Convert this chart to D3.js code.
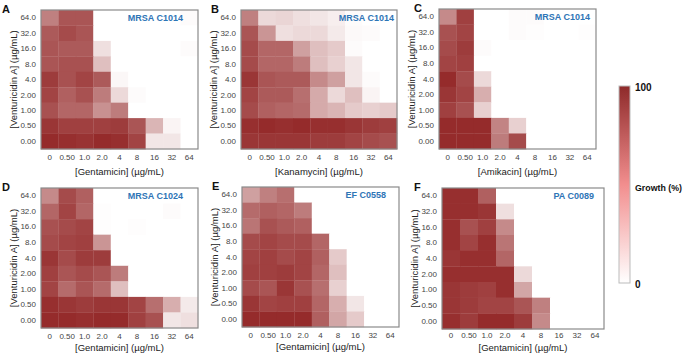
<!DOCTYPE html>
<html>
<head>
<meta charset="utf-8">
<script src="https://cdn.jsdelivr.net/npm/d3@7"></script>
<style>
body { margin: 0; background: #fff; font-family: "Liberation Sans", Arial, sans-serif; }
</style>
</head>
<body>
<div class="container"></div>
<script>
// checkerboard growth (%) : rows = venturicidin A (top 64 -> bottom 0), cols = antibiotic (0 -> 64)
var width = 685;
var height = 356;

var abxTicks = ["0", "0.50", "1.0", "2.0", "4", "8", "16", "32", "64"];
var vencTicks = ["64.0", "32.0", "16.0", "8.0", "4.0", "2.00", "1.00", "0.50", "0.00"];

var panelLetters = ["A", "B", "C", "D", "E", "F"];
var strains = ["MRSA C1014", "MRSA C1014", "MRSA C1014", "MRSA C1024", "EF C0558", "PA C0089"];
var drugs = ["Gentamicin", "Kanamycin", "Amikacin", "Gentamicin", "Gentamicin", "Gentamicin"];

var growthA = [
  [60, 80, 80, 0, 0, 0, 0, 0, 2],
  [78, 85, 80, 0, 0, 0, 0, 0, 0],
  [80, 78, 78, 15, 0, 0, 0, 0, 2],
  [80, 82, 82, 30, 0, 0, 0, 0, 0],
  [92, 82, 88, 78, 4, 0, 0, 0, 0],
  [88, 75, 82, 62, 18, 2, 0, 0, 0],
  [82, 72, 72, 52, 62, 0, 0, 0, 0],
  [95, 90, 90, 90, 92, 80, 35, 5, 0],
  [100, 98, 96, 100, 98, 88, 12, 12, 0]
];
var growthB = [
  [60, 18, 20, 15, 12, 8, 2, 0, 0],
  [80, 50, 15, 18, 18, 10, 3, 2, 0],
  [85, 72, 72, 45, 30, 25, 2, 0, 0],
  [85, 72, 72, 62, 30, 22, 12, 0, 0],
  [95, 80, 78, 78, 55, 45, 12, 2, 0],
  [88, 78, 78, 68, 40, 18, 30, 5, 0],
  [85, 75, 72, 70, 40, 35, 25, 22, 25],
  [98, 100, 98, 100, 98, 98, 95, 92, 90],
  [95, 95, 95, 95, 92, 92, 88, 85, 82]
];
var growthC = [
  [55, 90, 0, 0, 2, 2, 0, 0, 0],
  [82, 88, 0, 0, 2, 1, 0, 0, 1],
  [85, 92, 2, 0, 0, 0, 0, 0, 0],
  [88, 90, 0, 0, 0, 0, 0, 0, 0],
  [100, 85, 18, 0, 0, 0, 0, 0, 0],
  [95, 88, 38, 0, 0, 0, 0, 0, 0],
  [90, 82, 22, 0, 0, 0, 0, 0, 0],
  [100, 100, 100, 58, 22, 0, 0, 0, 0],
  [100, 100, 100, 62, 85, 0, 0, 0, 0]
];
var growthD = [
  [55, 85, 75, 0, 0, 0, 0, 0, 0],
  [72, 88, 72, 1, 0, 0, 0, 2, 0],
  [82, 85, 88, 1, 0, 1, 0, 0, 0],
  [85, 88, 90, 50, 0, 0, 0, 0, 0],
  [95, 85, 92, 92, 0, 0, 0, 0, 0],
  [90, 80, 85, 80, 62, 0, 0, 0, 0],
  [88, 70, 80, 70, 30, 0, 0, 0, 0],
  [98, 95, 92, 95, 95, 88, 68, 38, 10],
  [100, 100, 98, 100, 100, 90, 82, 12, 15]
];
var growthE = [
  [45, 60, 68, 0, 0, 0, 0, 0, 0],
  [70, 75, 72, 62, 0, 0, 0, 0, 0],
  [65, 82, 78, 75, 0, 0, 0, 0, 0],
  [85, 88, 85, 85, 72, 0, 0, 0, 0],
  [88, 90, 85, 88, 75, 25, 0, 0, 0],
  [90, 90, 92, 88, 72, 30, 0, 0, 0],
  [85, 80, 95, 82, 68, 22, 0, 0, 0],
  [95, 88, 90, 90, 72, 38, 12, 0, 0],
  [100, 100, 100, 100, 75, 42, 25, 0, 0]
];
var growthF = [
  [98, 98, 75, 0, 0, 0, 0, 0, 0],
  [98, 98, 95, 15, 0, 0, 0, 0, 0],
  [98, 82, 90, 55, 0, 0, 0, 0, 0],
  [98, 88, 98, 65, 0, 0, 0, 0, 0],
  [95, 98, 98, 72, 0, 0, 0, 0, 0],
  [98, 98, 98, 98, 18, 0, 0, 0, 0],
  [95, 92, 90, 98, 42, 0, 0, 0, 0],
  [95, 92, 88, 88, 80, 60, 0, 0, 0],
  [98, 92, 100, 100, 92, 55, 0, 0, 0]
];
var growthPanels = [growthA, growthB, growthC, growthD, growthE, growthF];

// where each panel's cell grid sits
var layout = [
  {x: 41,  y: 10,  w: 157, h: 139, letterX: 2,   titleOff: 15, tickDy: 5, labelDy: 26},
  {x: 241, y: 10,  w: 156, h: 139, letterX: 211, titleOff: 3,  tickDy: 5, labelDy: 26},
  {x: 439, y: 9,   w: 157, h: 140, letterX: 414, titleOff: 6,  tickDy: 5, labelDy: 26},
  {x: 41,  y: 188, w: 157, h: 140, letterX: 2,   titleOff: 15, tickDy: 5, labelDy: 23},
  {x: 242, y: 187, w: 157, h: 140, letterX: 212, titleOff: 13, tickDy: 5, labelDy: 23},
  {x: 442, y: 188, w: 162, h: 141, letterX: 414, titleOff: 10, tickDy: 3, labelDy: 22}
];

var translate = function(x, y) {
  return 'translate(' + x + ',' + y + ')';
};

var fullColor = '#952b2b';
var color = d3.scaleLinear().domain([0, 100]).range(['#ffffff', fullColor]).interpolate(d3.interpolateRgb);

var draw = function() {
  var svg = d3.select('.container').append('svg')
    .attr('width', width)
    .attr('height', height)
    .style('display', 'block');

  growthPanels.forEach(function(grid, p) {
    var L = layout[p];
    var g = svg.append('g').attr('transform', translate(L.x, L.y));

    var xScale = d3.scaleBand().domain(abxTicks).range([0, L.w]);
    var yScale = d3.scaleBand().domain(vencTicks).range([0, L.h]);

    var cells = [];
    grid.forEach(function(row, r) {
      row.forEach(function(v, c) {
        cells.push({x: abxTicks[c], y: vencTicks[r], v: v});
      });
    });

    g.selectAll('rect.cell').data(cells).enter()
      .append('rect')
      .attr('class', 'cell')
      .attr('x', function(d) { return xScale(d.x); })
      .attr('y', function(d) { return yScale(d.y); })
      .attr('width', xScale.bandwidth() + 0.3)
      .attr('height', yScale.bandwidth() + 0.3)
      .attr('fill', function(d) { return color(d.v); });

    g.append('rect')
      .attr('width', L.w)
      .attr('height', L.h)
      .attr('fill', 'none')
      .attr('stroke', '#8a8a8a')
      .attr('stroke-width', 1.2);

    var xAxis = g.append('g')
      .attr('transform', translate(0, L.h + L.tickDy))
      .call(d3.axisBottom(xScale).tickSize(0).tickPadding(0));
    var yAxis = g.append('g')
      .attr('transform', translate(-3, 0))
      .call(d3.axisLeft(yScale).tickSize(0).tickPadding(2));
    [xAxis, yAxis].forEach(function(a) {
      a.select('.domain').remove();
      a.selectAll('text')
        .attr('fill', '#444')
        .style('font-family', '"Liberation Sans", Arial, sans-serif')
        .style('font-size', '8px');
    });

    g.append('text')
      .attr('x', L.w / 2)
      .attr('y', L.h + L.labelDy)
      .attr('text-anchor', 'middle')
      .attr('fill', '#222')
      .style('font-size', '9.5px')
      .text('[' + drugs[p] + '] (\u00b5g/mL)');

    g.append('text')
      .attr('transform', translate(-24, L.h / 2) + ' rotate(-90)')
      .attr('text-anchor', 'middle')
      .attr('fill', '#222')
      .style('font-size', '9.5px')
      .text('[Venturicidin A] (\u00b5g/mL)');

    g.append('text')
      .attr('x', L.w - L.titleOff)
      .attr('y', 10.5)
      .attr('text-anchor', 'end')
      .attr('fill', '#2e75b6')
      .style('font-size', '9px')
      .style('font-weight', 'bold')
      .text(strains[p]);

    svg.append('text')
      .attr('x', L.letterX)
      .attr('y', L.y + 3)
      .attr('fill', '#111')
      .style('font-size', '11px')
      .style('font-weight', 'bold')
      .text(panelLetters[p]);
  });

  // colour bar
  var defs = svg.append('defs');
  var grad = defs.append('linearGradient')
    .attr('id', 'growthGrad')
    .attr('x1', 0).attr('y1', 0).attr('x2', 0).attr('y2', 1);
  grad.append('stop').attr('offset', '0%').attr('stop-color', '#8e2a2a');
  grad.append('stop').attr('offset', '50%').attr('stop-color', '#f28e8e');
  grad.append('stop').attr('offset', '100%').attr('stop-color', '#ffffff');

  var barScale = d3.scaleLinear().domain([0, 100]).range([283, 86]);
  svg.append('rect')
    .attr('x', 619)
    .attr('y', barScale(100))
    .attr('width', 11)
    .attr('height', barScale(0) - barScale(100))
    .attr('fill', 'url(#growthGrad)')
    .attr('stroke', '#bbb')
    .attr('stroke-width', 1);

  [100, 0].forEach(function(v) {
    svg.append('text')
      .attr('x', 635)
      .attr('y', barScale(v) + 5)
      .attr('fill', '#111')
      .style('font-size', '10px')
      .style('font-weight', 'bold')
      .text(v);
  });
  svg.append('text')
    .attr('x', 635)
    .attr('y', barScale(50) + 6)
    .attr('fill', '#111')
    .style('font-size', '8.8px')
    .style('font-weight', 'bold')
    .text('Growth (%)');
};

window.onload = draw;
</script>
</body>
</html>
